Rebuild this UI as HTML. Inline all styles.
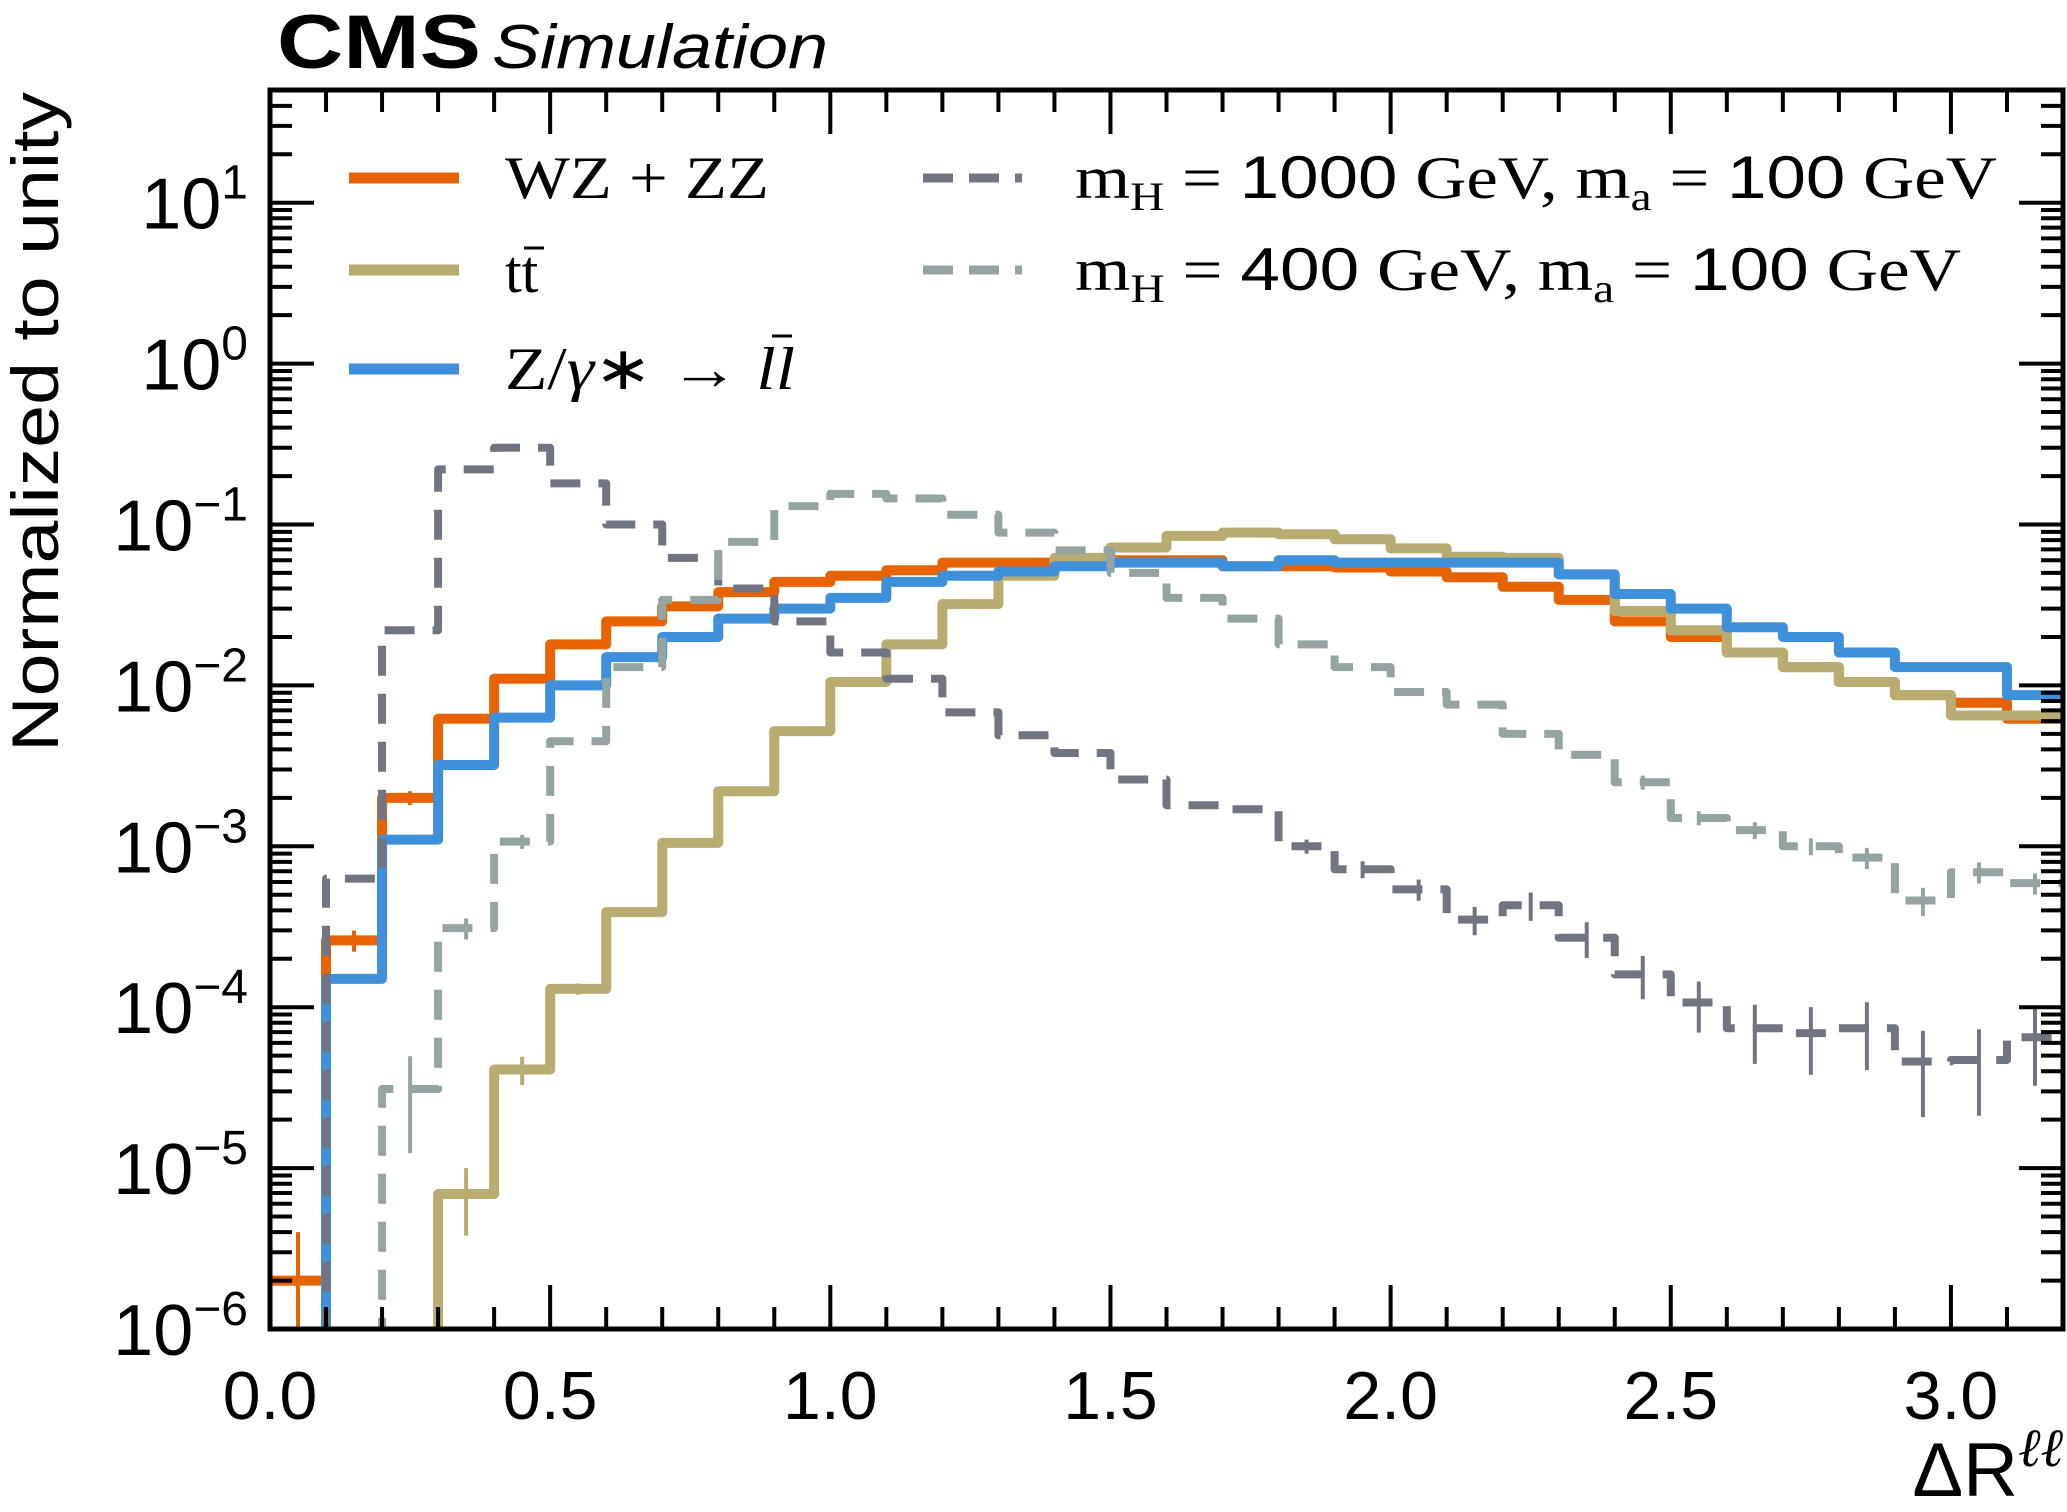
<!DOCTYPE html>
<html><head><meta charset="utf-8"><style>
html,body{margin:0;padding:0;background:#fff;width:2067px;height:1512px;overflow:hidden;}
svg{display:block;}
text{font-family:"Liberation Sans",sans-serif;}
.serif{font-family:"Liberation Serif",serif;}
</style></head><body>
<svg id="chart" width="2067" height="1512" viewBox="0 0 2067 1512">
<defs><clipPath id="plotclip"><rect x="270" y="90" width="1793" height="1239"/></clipPath></defs>
<text x="277" y="68" font-size="76" font-weight="bold" textLength="204" lengthAdjust="spacingAndGlyphs">CMS</text>
<text x="492" y="68" font-size="62" font-style="italic" textLength="336" lengthAdjust="spacingAndGlyphs">Simulation</text>
<g id="plot" clip-path="url(#plotclip)"></g>
<g id="axes"></g>
<rect x="270" y="90" width="1793" height="1239" fill="none" stroke="#000" stroke-width="5"/>
<text transform="translate(58,92) rotate(-90)" text-anchor="end" font-size="66" textLength="660" lengthAdjust="spacingAndGlyphs">Normalized to unity</text>
<text x="2063" y="1496" text-anchor="end" font-size="76">ΔR<tspan dy="-30" font-size="54" font-style="italic" class="serif">ℓℓ</tspan></text>
<g>
 <g><line x1="349" y1="178" x2="459" y2="178" stroke="#e76300" stroke-width="11"/><text x="505" y="198" font-size="60" class="serif" textLength="264" lengthAdjust="spacingAndGlyphs">WZ + ZZ</text></g>
 <g><line x1="349" y1="270" x2="459" y2="270" stroke="#b9ac70" stroke-width="11"/><text x="505" y="292" font-size="60" class="serif">tt</text><line x1="524" y1="248" x2="544" y2="248" stroke="#000" stroke-width="3"/></g>
 <g><line x1="349" y1="369" x2="459" y2="369" stroke="#3f90da" stroke-width="11"/><text x="505" y="389" font-size="60" class="serif" textLength="290" lengthAdjust="spacingAndGlyphs">Z/<tspan font-style="italic">γ</tspan>∗ → <tspan font-style="italic">ll</tspan></text><line x1="772" y1="336" x2="792" y2="336" stroke="#000" stroke-width="3"/></g>
 <g><line x1="923" y1="178" x2="1022" y2="178" stroke="#717581" stroke-width="9" stroke-dasharray="30,16"/><text x="1075" y="198" font-size="60" class="serif" textLength="922" lengthAdjust="spacingAndGlyphs">m<tspan font-size="40" dy="12">H</tspan><tspan dy="-12"> = </tspan><tspan font-family="Liberation Sans">1000</tspan> GeV,  m<tspan font-size="40" dy="12">a</tspan><tspan dy="-12"> = </tspan><tspan font-family="Liberation Sans">100</tspan> GeV</text></g>
 <g><line x1="923" y1="270" x2="1022" y2="270" stroke="#94a4a2" stroke-width="9" stroke-dasharray="30,16"/><text x="1075" y="290" font-size="60" class="serif" textLength="886" lengthAdjust="spacingAndGlyphs">m<tspan font-size="40" dy="12">H</tspan><tspan dy="-12"> = </tspan><tspan font-family="Liberation Sans">400</tspan> GeV,  m<tspan font-size="40" dy="12">a</tspan><tspan dy="-12"> = </tspan><tspan font-family="Liberation Sans">100</tspan> GeV</text></g>
</g>
</svg>
<script>
const binEdgesStart = 0.0;
const binWidth = 0.1;
const wzzz = [2.0e-6,2.6e-4,2.0e-3,6.2e-3,0.011,0.018,0.025,0.031,0.038,0.044,0.048,0.052,0.058,0.058,0.060,0.060,0.060,0.055,0.055,0.054,0.051,0.047,0.041,0.034,0.025,0.020,0.016,0.013,0.0105,0.0087,0.0078,0.0062];
const ttbar = [0,0,0,6.9e-6,4.1e-5,1.3e-4,3.9e-4,1.05e-3,2.2e-3,5.2e-3,0.0105,0.018,0.032,0.048,0.062,0.072,0.085,0.089,0.087,0.081,0.071,0.063,0.062,0.049,0.029,0.022,0.016,0.013,0.0105,0.0087,0.0065,0.0065];
const dy = [0,1.5e-4,1.1e-3,3.2e-3,6.3e-3,0.010,0.015,0.020,0.026,0.030,0.035,0.044,0.048,0.051,0.055,0.058,0.058,0.055,0.060,0.058,0.058,0.058,0.058,0.049,0.037,0.030,0.023,0.020,0.016,0.013,0.013,0.0087];
const mh1000 = [0,6.3e-4,0.022,0.22,0.30,0.18,0.10,0.062,0.040,0.025,0.016,0.011,6.8e-3,4.9e-3,3.8e-3,2.6e-3,1.8e-3,1.7e-3,1.0e-3,7.2e-4,5.4e-4,3.5e-4,4.3e-4,2.7e-4,1.6e-4,1.07e-4,7.4e-5,6.9e-5,7.4e-5,4.6e-5,4.7e-5,6.5e-5];
const mh400 = [0,0,3.1e-5,3.1e-4,1.07e-3,4.5e-3,0.013,0.034,0.078,0.13,0.155,0.145,0.115,0.089,0.069,0.050,0.035,0.026,0.018,0.013,9.1e-3,7.6e-3,5.0e-3,3.7e-3,2.5e-3,1.5e-3,1.26e-3,1.0e-3,8.5e-4,4.6e-4,6.9e-4,5.9e-4];
const relErrWzzz = [1.0,0.15,0.1,0,0,0,0,0,0,0,0,0,0,0,0,0,0,0,0,0,0,0,0,0,0,0,0,0,0,0,0,0];
const relErrTtbar = [0,0,0,0.45,0.2,0.08,0,0,0,0,0,0,0,0,0,0,0,0,0,0,0,0,0,0,0,0,0,0,0,0,0,0];
const relErrMh400 = [0,0,0.6,0.15,0.1,0,0,0,0,0,0,0,0,0,0,0,0,0,0,0,0,0,0,0,0.1,0.1,0.12,0.12,0.15,0.2,0.15,0.15];
const relErrMh1000 = [0,0,0,0,0,0,0,0,0,0,0,0,0,0,0,0,0,0,0.1,0.12,0.15,0.2,0.2,0.25,0.3,0.35,0.4,0.45,0.45,0.55,0.55,0.5];
const xTickLabels = ["0.0","0.5","1.0","1.5","2.0","2.5","3.0"];
const yTickExps = ["−6","−5","−4","−3","−2","−1","0","1"];
const yDecades = [-6,-5,-4,-3,-2,-1,0,1];

const NS = "http://www.w3.org/2000/svg";
const X0 = 270, X1 = 2063, Y0 = 1329, Y1 = 90;
const XMAX = 3.2, LOGMIN = -6, LOGMAX = LOGMIN + (Y0 - Y1) / 160.9;
function X(v){ return X0 + v / XMAX * (X1 - X0); }
function Y(v){ const l = v > 0 ? Math.log10(v) : -9; return Y0 - (l - LOGMIN) / (LOGMAX - LOGMIN) * (Y0 - Y1); }
function mk(tag, attrs, parent){ const e = document.createElementNS(NS, tag); for (const k in attrs) e.setAttribute(k, attrs[k]); parent.appendChild(e); return e; }
const plot = document.getElementById('plot');
const axes = document.getElementById('axes');

function drawHist(vals, errs, color, width, dash, name){
  const g = mk('g', {}, plot);
  
  
  let d = '';
  for (let i = 0; i < vals.length; i++){
    const xa = X(binEdgesStart + i * binWidth), xb = X(binEdgesStart + (i + 1) * binWidth), y = Y(vals[i]);
    d += (i === 0 ? 'M' + xa + ',' + y : 'V' + y) + 'H' + xb;
  }
  const p = mk('path', {d: d, fill: 'none', stroke: color, 'stroke-width': width, 'stroke-linejoin': 'round'}, g);
  if (dash) p.setAttribute('stroke-dasharray', dash);
  
  
  for (let i = 0; i < vals.length; i++){
    if (!errs[i] || !(vals[i] > 0)) continue;
    const xc = X(binEdgesStart + (i + 0.5) * binWidth);
    const lo = vals[i] * Math.max(1 - errs[i], 1e-4), hi = vals[i] * (1 + errs[i]);
    const e = mk('line', {x1: xc, x2: xc, y1: Y(lo), y2: Y(hi), stroke: color, 'stroke-width': 4}, g);
    
    
  }
}
drawHist(wzzz, relErrWzzz, '#e76300', 10, null, 'series-wz-zz');
drawHist(ttbar, relErrTtbar, '#b9ac70', 10, null, 'series-ttbar');
drawHist(dy, [], '#3f90da', 10, null, 'series-dy');
drawHist(mh1000, relErrMh1000, '#717581', 8, '30,18', 'series-mh1000');
drawHist(mh400, relErrMh400, '#94a4a2', 8, '30,18', 'series-mh400');

for (let k = 0; k <= 32; k++){
  const v = k * 0.1, x = X(v), major = (k % 5 === 0), L = major ? 44 : 22;
  const t1 = mk('line', {x1: x, x2: x, y1: Y0, y2: Y0 - L, stroke: '#000', 'stroke-width': 4}, axes);
  
  
  const t2 = mk('line', {x1: x, x2: x, y1: Y1, y2: Y1 + L, stroke: '#000', 'stroke-width': 4}, axes);
  
  
}
xTickLabels.forEach(function(lbl, i){
  const t = mk('text', {x: X(i * 0.5), y: 1419, 'text-anchor': 'middle', 'font-size': 68}, axes);
  t.textContent = lbl;
  
  
});
for (let dcd = -6; dcd <= 1; dcd++){
  for (let m = 1; m <= 9; m++){
    const v = m * Math.pow(10, dcd), y = Y(v);
    if (y < Y1) continue;
    const L = m === 1 ? 44 : 22;
    const a = mk('line', {x1: X0, x2: X0 + L, y1: y, y2: y, stroke: '#000', 'stroke-width': 4}, axes);
    
    
    const b = mk('line', {x1: X1, x2: X1 - L, y1: y, y2: y, stroke: '#000', 'stroke-width': 4}, axes);
    
    
  }
}
yDecades.forEach(function(dc, i){
  const y = Y(Math.pow(10, dc));
  const t = mk('text', {x: 248, y: y + 26, 'text-anchor': 'end', 'font-size': 72}, axes);
  
  
  const a = document.createElementNS(NS, 'tspan'); a.textContent = '10'; t.appendChild(a);
  const b = document.createElementNS(NS, 'tspan'); b.setAttribute('dy', '-30'); b.setAttribute('font-size', '48'); b.textContent = yTickExps[i]; t.appendChild(b);
});
</script>
</body></html>
